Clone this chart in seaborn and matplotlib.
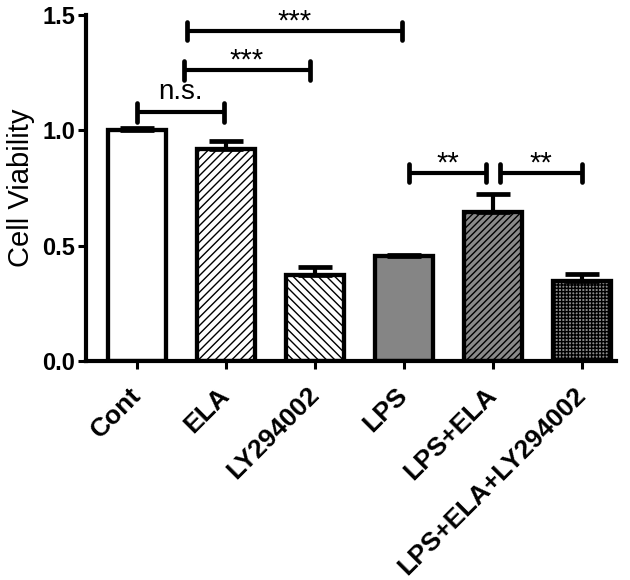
import numpy as np
import matplotlib
matplotlib.use("Agg")
import matplotlib.pyplot as plt
import seaborn as sns

groups = ["Cont", "ELA", "LY294002", "LPS", "LPS+ELA", "LPS+ELA+LY294002"]
means = [1.00, 0.92, 0.375, 0.455, 0.645, 0.345]
errs = [0.01, 0.035, 0.032, 0.006, 0.08, 0.032]

faces = ["white", "white", "white", "#858585", "#8a8a8a", "#8c8c8c"]
hatches = [None, "////", "\\\\\\\\", None, "/////", "+++++"]

# significance brackets: (start, end, height, label)
brackets = [
    (0.0, 0.98, 1.078, "n.s."),
    (0.53, 1.94, 1.26, "***"),
    (0.56, 2.98, 1.43, "***"),
    (3.06, 3.92, 0.815, "**"),
    (4.08, 5.0, 0.815, "**"),
]

sns.set_style("ticks")
plt.rcParams["font.family"] = ["Liberation Sans", "DejaVu Sans"]
plt.rcParams["hatch.linewidth"] = 1.0
plt.rcParams["text.color"] = "black"
plt.rcParams["axes.labelcolor"] = "black"
plt.rcParams["xtick.color"] = "black"
plt.rcParams["ytick.color"] = "black"
plt.rcParams["axes.edgecolor"] = "black"

fig = plt.figure(figsize=(6.3, 5.8), dpi=100)
ax = fig.add_axes([0.1365, 0.3776, 0.841, 0.5964])

sns.barplot(x=groups, y=means, color="white", width=0.66, errorbar=None,
            edgecolor="black", linewidth=3.1, ax=ax)
for p, fc, h in zip(ax.patches, faces, hatches):
    p.set_facecolor(fc)
    p.set_edgecolor("black")
    if h:
        p.set_hatch(h)

ax.errorbar(x=np.arange(len(groups)), y=means,
            yerr=[np.zeros(len(errs)), errs], fmt="none", ecolor="black",
            elinewidth=3, capsize=12, capthick=3.4, zorder=1)

for x1, x2, y, lab in brackets:
    ax.plot([x1, x2], [y, y], color="black", lw=3, solid_capstyle="butt")
    for xx in (x1, x2):
        ax.plot([xx, xx], [y - 0.04, y + 0.04], color="black", lw=3.4,
                solid_capstyle="round")
    if lab == "n.s.":
        ax.text((x1 + x2) / 2, y + 0.057, lab, ha="center", va="baseline",
                fontsize=20)
    else:
        ax.text((x1 + x2) / 2, y + 0.006, lab, ha="center", va="baseline",
                fontsize=21)

ax.set_xlim(-0.573, 5.38)
ax.set_ylim(0, 1.5)
ax.set_yticks([0.0, 0.5, 1.0, 1.5])
ax.set_yticklabels(["0.0", "0.5", "1.0", "1.5"], fontsize=17, fontweight="bold")
ax.set_xticks(range(len(groups)))
ax.set_xticklabels(groups, rotation=45, ha="right", va="center",
                   rotation_mode="anchor", fontsize=19, fontweight="bold")
ax.tick_params(axis="both", length=5.8, width=2.2, direction="out", pad=2)
ax.tick_params(axis="x", pad=16)
ax.set_xlabel("")
ax.set_ylabel("Cell Viability", fontsize=21, va="center")
ax.yaxis.set_label_coords(-0.123, 0.5)

sns.despine(ax=ax)
for s in ("left", "bottom"):
    ax.spines[s].set_linewidth(3)

fig.savefig("out.png", dpi=100)
